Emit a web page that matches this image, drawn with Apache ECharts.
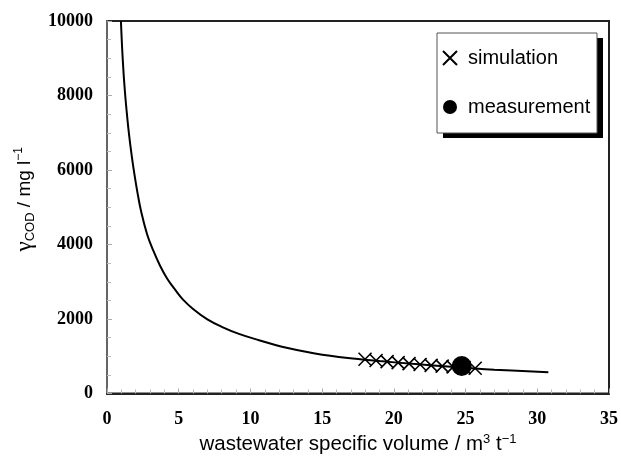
<!DOCTYPE html>
<html>
<head>
<meta charset="utf-8">
<script src="https://cdn.jsdelivr.net/npm/echarts@6/dist/echarts.min.js"></script>
<style>
    html, body { margin: 0; padding: 0; background: #fff; }
    #chart { width: 621px; height: 464px; }
</style>
</head>
<body>
<div id="chart"></div>
<script>
// model curve
var curveX = [0.97, 1.1, 1.25, 1.48, 1.65, 1.82, 2.13, 2.4, 2.8, 3.2, 3.7, 4.2, 4.8, 5.3, 6.0, 7.0, 8.0, 9.2, 10.6, 12.2, 14.5, 16.8, 19, 21.5, 24, 27, 30.77];
var curveY = [10000, 8950, 8100, 7150, 6600, 6120, 5380, 4850, 4270, 3860, 3430, 3080, 2760, 2520, 2270, 1990, 1790, 1600, 1430, 1255, 1075, 950, 870, 790, 715, 640, 569];

// simulation points (crosses)
var simX = [17.99, 18.76, 19.53, 20.30, 21.06, 21.83, 22.60, 23.37, 24.13, 24.90, 25.67];
var simY = [918, 886, 856, 828, 802, 778, 756, 734, 714, 695, 677];

// measurement point
var measX = [24.73];
var measY = [738];

var xTicks = [0, 5, 10, 15, 20, 25, 30, 35];
var yTicks = [0, 2000, 4000, 6000, 8000, 10000];

function pairs(xs, ys) {
    return xs.map(function (x, i) { return [x, ys[i]]; });
}

var chart = echarts.init(document.getElementById('chart'));

var tickFont = {
    fontFamily: 'Liberation Serif',
    fontWeight: 'bold',
    fontSize: 18,
    color: '#000'
};

chart.setOption({
    animation: false,
    backgroundColor: '#fff',
    grid: {
        left: 107,
        top: 21,
        right: 11,
        bottom: 70.5,
        show: true,
        borderColor: '#222',
        borderWidth: 2
    },
    // legend frame with its hard shadow
    graphic: [
        {
            type: 'rect',
            shape: { x: 443, y: 38, width: 160, height: 100 },
            style: { fill: '#000' },
            z: 1
        },
        {
            type: 'rect',
            shape: { x: 437, y: 33, width: 160, height: 100 },
            style: { fill: '#fff', stroke: '#555', lineWidth: 1 },
            z: 2
        }
    ],
    legend: {
        orient: 'vertical',
        left: 442,
        top: 48,
        padding: 0,
        itemGap: 29,
        itemWidth: 14,
        itemHeight: 14,
        z: 5,
        textStyle: { fontFamily: 'Liberation Sans', fontSize: 20, color: '#000', padding: [0, 0, 0, 6] },
        data: ['simulation', 'measurement']
    },
    xAxis: {
        type: 'value',
        min: 0,
        max: 35,
        interval: 5,
        name: 'wastewater specific volume / m{sup|3} t{sup|−1}',
        nameLocation: 'middle',
        nameGap: 36,
        nameTextStyle: {
            fontFamily: 'Liberation Sans',
            fontSize: 20.5,
            color: '#000',
            lineHeight: 22,
            rich: {
                sup: { fontFamily: 'Liberation Sans', fontSize: 13, color: '#000', verticalAlign: 'top', lineHeight: 22, padding: [0, 0, 9, 0] }
            }
        },
        axisLine: { lineStyle: { color: '#222', width: 2 } },
        axisTick: { inside: true, length: 5, lineStyle: { color: '#aaa' } },
        minorTick: { show: true, splitNumber: 5, length: 4, lineStyle: { color: '#bbb' } },
        splitLine: { show: false },
        axisLabel: Object.assign({ margin: 17, formatter: function (v) { return xTicks.indexOf(v) >= 0 ? v : ''; } }, tickFont)
    },
    yAxis: {
        type: 'value',
        min: 0,
        max: 10000,
        interval: 2000,
        name: '{g|γ}{sub|COD}{t| / mg l}{sup|−1}',
        nameLocation: 'middle',
        nameGap: 69,
        nameTextStyle: {
            fontFamily: 'Liberation Sans',
            fontSize: 19,
            color: '#000',
            padding: [0, 0, 0, 16],
            rich: {
                g: { fontFamily: 'Liberation Serif', fontSize: 23, color: '#000', lineHeight: 24 },
                sub: { fontFamily: 'Liberation Sans', fontSize: 13, color: '#000', verticalAlign: 'bottom', lineHeight: 24, padding: [6, 0, 0, 0] },
                t: { fontFamily: 'Liberation Sans', fontSize: 19, color: '#000', lineHeight: 24 },
                sup: { fontFamily: 'Liberation Sans', fontSize: 12, color: '#000', verticalAlign: 'top', lineHeight: 24, padding: [0, 0, 9, 0] }
            }
        },
        axisLine: { lineStyle: { color: '#666', width: 2 } },
        axisTick: { inside: true, length: 5, lineStyle: { color: '#aaa' } },
        minorTick: { show: true, splitNumber: 4, length: 4, lineStyle: { color: '#bbb' } },
        splitLine: { show: false },
        axisLabel: Object.assign({ margin: 14, formatter: function (v) { return yTicks.indexOf(v) >= 0 ? v : ''; } }, tickFont)
    },
    series: [
        {
            name: 'model',
            type: 'line',
            data: pairs(curveX, curveY),
            showSymbol: false,
            smooth: 0.4,
            clip: true,
            lineStyle: { color: '#000', width: 2 },
            z: 2
        },
        {
            name: 'simulation',
            type: 'scatter',
            data: pairs(simX, simY),
            symbol: 'path://M0,0L10,10M10,0L0,10',
            symbolSize: 13,
            itemStyle: { color: 'rgba(0,0,0,0)', borderColor: '#000', borderWidth: 1.6, opacity: 1 },
            z: 3
        },
        {
            name: 'measurement',
            type: 'scatter',
            data: pairs(measX, measY),
            symbol: 'circle',
            symbolSize: 20,
            itemStyle: { color: '#000', opacity: 1 },
            z: 4
        }
    ]
});
</script>
</body>
</html>
